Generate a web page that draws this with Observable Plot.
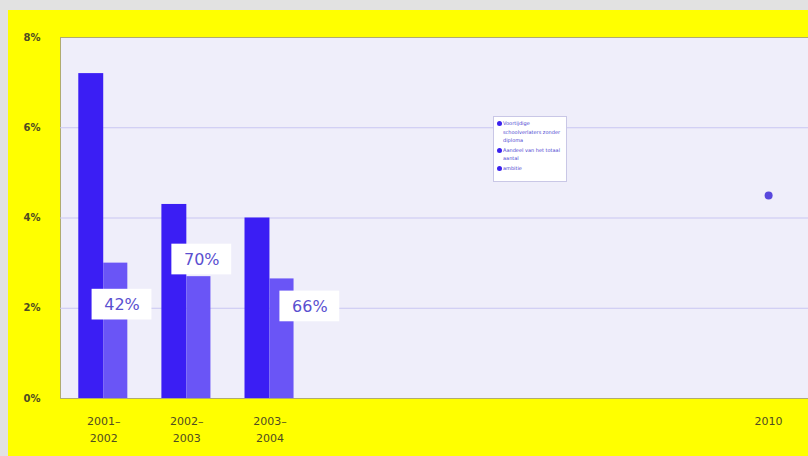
<!DOCTYPE html>
<html><head><meta charset="utf-8">
<script src="https://cdn.jsdelivr.net/npm/d3@7"></script>
<script src="https://cdn.jsdelivr.net/npm/@observablehq/plot@0.6"></script>
<style>
body{margin:0;background:#e2e2e2;width:808px;height:456px;overflow:hidden;font-family:"DejaVu Sans",sans-serif}
#wrap{position:absolute;left:8px;top:10px;width:800px;height:446px;background:#ffff00}
#wrap svg{position:absolute;left:0;top:0}
#legend{position:absolute;left:485px;top:106px;width:72px;height:62px;background:#fff;border:1px solid #c9c7e6;font-size:5px;line-height:8.5px;color:#4a3fd0;padding-top:2px}
#legend .it{position:relative;padding-left:9px;margin-bottom:1px}
#legend .b{position:absolute;left:3px;top:2px;width:5px;height:5px;border-radius:50%;background:#3b22ee}
</style></head><body><div id="wrap"><div id="legend"></div></div><script>
const categories = ["2001–\n2002", "2002–\n2003", "2003–\n2004"];
const catIndex = [0, 1, 2];
const seriesA = [7.2, 4.3, 4.0];
const seriesB = [3.0, 2.7, 2.65];
const pctLabels = ["42%", "70%", "66%"];
const labelAtX = [0.22, 1.18, 2.48];
const labelAtY = [2.08, 3.08, 2.04];
const targetCategory = "2010";
const targetIndex = 8;
const targetValue = 4.5;
const yTicks = [0, 2, 4, 6, 8];
const legendNames = ["Voortijdige schoolverlaters zonder diploma", "Aandeel van het totaal aantal", "ambitie"];

const tickText = i => i === targetIndex ? targetCategory : categories[i];

const chart = Plot.plot({
  width: 800, height: 446,
  marginLeft: 52, marginRight: 0, marginTop: 27, marginBottom: 58,
  style: {background: "transparent", fontFamily: "DejaVu Sans", fontSize: "11px", color: "#4f4c22", overflow: "visible"},
  x: {type: "linear", domain: [-0.52, 8.48]},
  y: {domain: [0, 8]},
  marks: [
    Plot.frame({fill: "#efeefa", stroke: "#b0ab70"}),
    Plot.gridY([2, 4, 6], {stroke: "#c9c6f2", strokeOpacity: 1}),
    Plot.rect(catIndex, {x1: i => i - 0.3, x2: i => i, y1: 0, y2: i => seriesA[i], fill: "#3b1ef4"}),
    Plot.rect(catIndex, {x1: i => i, x2: i => i + 0.29, y1: 0, y2: i => seriesB[i], fill: "#6a55f6"}),
    Plot.dot([targetIndex], {x: d => d, y: () => targetValue, r: 4, fill: "#5847dd"}),
    Plot.rect(catIndex, {x1: i => labelAtX[i] - 0.36, x2: i => labelAtX[i] + 0.36, y1: i => labelAtY[i] - 0.34, y2: i => labelAtY[i] + 0.34, fill: "white"}),
    Plot.text(catIndex, {x: i => labelAtX[i], y: i => labelAtY[i], text: i => pctLabels[i], fill: "#5a4fd0", fontSize: 16}),
    Plot.axisX([...catIndex, targetIndex], {tickSize: 0, tickPadding: 15, tickFormat: tickText, lineHeight: 1.5, label: null, fill: "#4f4c22"}),
    Plot.axisY(yTicks, {tickSize: 0, tickPadding: 20, tickFormat: d => d + "%", label: null, fontWeight: "bold", fontSize: 10, fill: "#4f4c22"})
  ]
});
document.getElementById("wrap").prepend(chart);

const leg = document.getElementById("legend");
legendNames.forEach(n => {
  const d = document.createElement("div");
  d.className = "it";
  d.innerHTML = '<span class="b"></span>';
  d.appendChild(document.createTextNode(n));
  leg.appendChild(d);
});
</script></body></html>
